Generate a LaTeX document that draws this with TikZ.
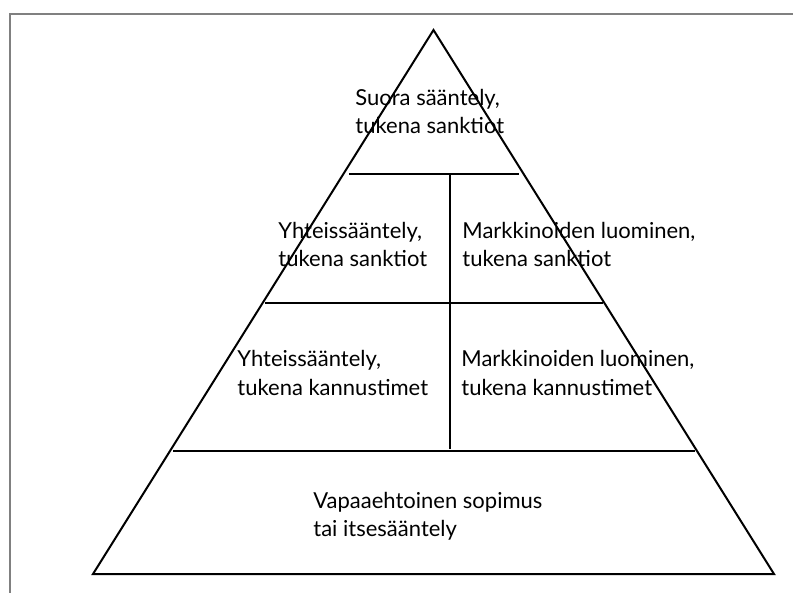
\documentclass[tikz,border=0pt]{standalone}
\usepackage{fontspec}
\setmainfont{Lato}
\usetikzlibrary{positioning}
\begin{document}
\begin{tikzpicture}[
  x=0.5pt, y=-0.5pt,
  frame/.style={draw=black!50, line width=1pt},
  edge/.style={draw=black, line width=1pt},
  lbl/.style={anchor=base west, align=left, inner sep=0pt,
              font=\fontsize{11}{14}\selectfont}
]
  \useasboundingbox (0,0) rectangle (793,593);
  \draw[frame] (793,14) -- (10,14) -- (10,593);
  % pyramid outline
  \coordinate (apex) at (433.5,30);
  \coordinate (bl) at (93,574);
  \coordinate (br) at (774,574);
  \draw[edge] (apex) -- (br) -- (bl) -- cycle;
  % levels
  \draw[edge] (349,174) -- (519,174);
  \draw[edge] (265,303) -- (603,303);
  \draw[edge] (173,451) -- (695,451);
  \draw[edge] (450,174) -- (450,449);
  % texts (anchored at the baseline of the second line)
  \node[lbl] (suora) at (355,134) {Suora sääntely,\\tukena sanktiot};
  \node[lbl] (yhtS)  at (278,267) {Yhteissääntely,\\tukena sanktiot};
  \node[lbl] (markS) at (462,267) {Markkinoiden luominen,\\tukena sanktiot};
  \node[lbl] (yhtK)  at (237,395) {Yhteissääntely,\\tukena kannustimet};
  \node[lbl] (markK) at (461,395) {Markkinoiden luominen,\\tukena kannustimet};
  \node[lbl] (vapaa) at (313,536) {Vapaaehtoinen sopimus\\tai itsesääntely};
\end{tikzpicture}
\end{document}
